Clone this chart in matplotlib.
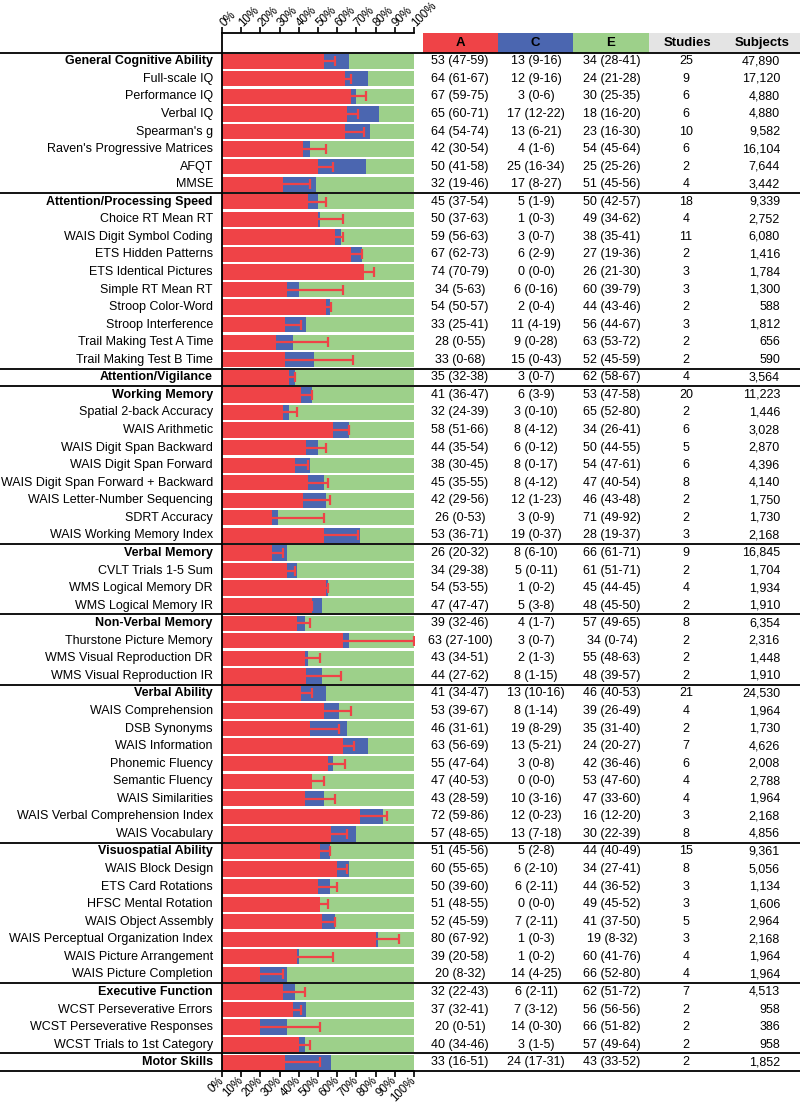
import numpy as np
import matplotlib
matplotlib.use('Agg')
import matplotlib.pyplot as plt
from matplotlib.transforms import blended_transform_factory
from matplotlib.patches import Rectangle

plt.rcParams['font.family'] = ['Liberation Sans', 'DejaVu Sans']

labels = [
    "General Cognitive Ability", "Full-scale IQ", "Performance IQ", "Verbal IQ", "Spearman's g",
    "Raven's Progressive Matrices", "AFQT", "MMSE",
    "Attention/Processing Speed", "Choice RT Mean RT", "WAIS Digit Symbol Coding", "ETS Hidden Patterns",
    "ETS Identical Pictures", "Simple RT Mean RT", "Stroop Color-Word", "Stroop Interference",
    "Trail Making Test A Time", "Trail Making Test B Time",
    "Attention/Vigilance",
    "Working Memory", "Spatial 2-back Accuracy", "WAIS Arithmetic", "WAIS Digit Span Backward",
    "WAIS Digit Span Forward", "WAIS Digit Span Forward + Backward", "WAIS Letter-Number Sequencing",
    "SDRT Accuracy", "WAIS Working Memory Index",
    "Verbal Memory", "CVLT Trials 1-5 Sum", "WMS Logical Memory DR", "WMS Logical Memory IR",
    "Non-Verbal Memory", "Thurstone Picture Memory", "WMS Visual Reproduction DR", "WMS Visual Reproduction IR",
    "Verbal Ability", "WAIS Comprehension", "DSB Synonyms", "WAIS Information", "Phonemic Fluency",
    "Semantic Fluency", "WAIS Similarities", "WAIS Verbal Comprehension Index", "WAIS Vocabulary",
    "Visuospatial Ability", "WAIS Block Design", "ETS Card Rotations", "HFSC Mental Rotation",
    "WAIS Object Assembly", "WAIS Perceptual Organization Index", "WAIS Picture Arrangement",
    "WAIS Picture Completion",
    "Executive Function", "WCST Perseverative Errors", "WCST Perseverative Responses",
    "WCST Trials to 1st Category",
    "Motor Skills",
]
categories = ["General Cognitive Ability", "Attention/Processing Speed", "Attention/Vigilance",
              "Working Memory", "Verbal Memory", "Non-Verbal Memory", "Verbal Ability",
              "Visuospatial Ability", "Executive Function", "Motor Skills"]

a_est = [53, 64, 67, 65, 64, 42, 50, 32,
         45, 50, 59, 67, 74, 34, 54, 33, 28, 33,
         35,
         41, 32, 58, 44, 38, 45, 42, 26, 53,
         26, 34, 54, 47,
         39, 63, 43, 44,
         41, 53, 46, 63, 55, 47, 43, 72, 57,
         51, 60, 50, 51, 52, 80, 39, 20,
         32, 37, 20, 40,
         33]
a_lo = [47, 61, 59, 60, 54, 30, 41, 19,
        37, 37, 56, 62, 70, 5, 50, 25, 0, 0,
        32,
        36, 24, 51, 35, 30, 35, 29, 0, 36,
        20, 29, 53, 47,
        32, 27, 34, 27,
        34, 39, 31, 56, 47, 40, 28, 59, 48,
        45, 55, 39, 48, 45, 67, 20, 8,
        22, 32, 0, 34,
        16]
a_hi = [59, 67, 75, 71, 74, 54, 58, 46,
        54, 63, 63, 73, 79, 63, 57, 41, 55, 68,
        38,
        47, 39, 66, 54, 45, 55, 56, 53, 71,
        32, 38, 55, 47,
        46, 100, 51, 62,
        47, 67, 61, 69, 64, 53, 59, 86, 65,
        56, 65, 60, 55, 59, 92, 58, 32,
        43, 41, 51, 46,
        51]
c_est = [13, 12, 3, 17, 13, 4, 25, 17,
         5, 1, 3, 6, 0, 6, 2, 11, 9, 15,
         3,
         6, 3, 8, 6, 8, 8, 12, 3, 19,
         8, 5, 1, 5,
         4, 3, 2, 8,
         13, 8, 19, 13, 3, 0, 10, 12, 13,
         5, 6, 6, 0, 7, 1, 1, 14,
         6, 7, 14, 3,
         24]
c_lo = [9, 9, 0, 12, 6, 1, 16, 8,
        1, 0, 0, 2, 0, 0, 0, 4, 0, 0,
        0,
        3, 0, 4, 0, 0, 4, 1, 0, 0,
        6, 0, 0, 3,
        1, 0, 1, 1,
        10, 1, 8, 5, 0, 0, 3, 0, 7,
        2, 2, 2, 0, 2, 0, 0, 4,
        2, 3, 0, 1,
        17]
c_hi = [16, 16, 6, 22, 21, 6, 34, 27,
        9, 3, 7, 9, 0, 16, 4, 19, 28, 43,
        7,
        9, 10, 12, 12, 17, 12, 23, 9, 37,
        10, 11, 2, 8,
        7, 7, 3, 15,
        16, 14, 29, 21, 8, 0, 16, 23, 18,
        8, 10, 11, 0, 11, 3, 2, 25,
        11, 12, 30, 5,
        31]
e_est = [34, 24, 30, 18, 23, 54, 25, 51,
         50, 49, 38, 27, 26, 60, 44, 56, 63, 52,
         62,
         53, 65, 34, 50, 54, 47, 46, 71, 28,
         66, 61, 45, 48,
         57, 34, 55, 48,
         46, 39, 35, 24, 42, 53, 47, 16, 30,
         44, 34, 44, 49, 41, 19, 60, 66,
         62, 56, 66, 57,
         43]
e_lo = [28, 21, 25, 16, 16, 45, 25, 45,
        42, 34, 35, 19, 21, 39, 43, 44, 53, 45,
        58,
        47, 52, 26, 44, 47, 40, 43, 49, 19,
        61, 51, 44, 45,
        49, 0, 48, 39,
        40, 26, 31, 20, 36, 47, 33, 12, 22,
        40, 27, 36, 45, 37, 8, 41, 52,
        51, 56, 51, 49,
        33]
e_hi = [41, 28, 35, 20, 30, 64, 26, 56,
        57, 62, 41, 36, 30, 79, 46, 67, 72, 59,
        67,
        58, 80, 41, 55, 61, 54, 48, 92, 37,
        71, 71, 45, 50,
        65, 74, 63, 57,
        53, 49, 40, 27, 46, 60, 60, 20, 39,
        49, 41, 52, 52, 50, 32, 76, 80,
        72, 56, 82, 64,
        52]
studies = [25, 9, 6, 6, 10, 6, 2, 4,
           18, 4, 11, 2, 3, 3, 2, 3, 2, 2,
           4,
           20, 2, 6, 5, 6, 8, 2, 2, 3,
           9, 2, 4, 2,
           8, 2, 2, 2,
           21, 4, 2, 7, 6, 4, 4, 3, 8,
           15, 8, 3, 3, 5, 3, 4, 4,
           7, 2, 2, 2,
           2]
subjects = [47890, 17120, 4880, 4880, 9582, 16104, 7644, 3442,
            9339, 2752, 6080, 1416, 1784, 1300, 588, 1812, 656, 590,
            3564,
            11223, 1446, 3028, 2870, 4396, 4140, 1750, 1730, 2168,
            16845, 1704, 1934, 1910,
            6354, 2316, 1448, 1910,
            24530, 1964, 1730, 4626, 2008, 2788, 1964, 2168, 4856,
            9361, 5056, 1134, 1606, 2964, 2168, 1964, 1964,
            4513, 958, 386, 958,
            1852]
col_headers = ["A", "C", "E", "Studies", "Subjects"]

RED = '#ef4347'
BLUE = '#4b66b0'
GREEN = '#9dd08a'
GRAY = '#e4e4e4'

W, H = 800, 1105
fig = plt.figure(figsize=(W / 100, H / 100), dpi=100)

ax_left, ax_right = 222, 414
ax_top, ax_bot = 33, 1071
header_line = 52.5
ax = fig.add_axes([ax_left / W, 1 - ax_bot / H, (ax_right - ax_left) / W, (ax_bot - ax_top) / H])

n = len(labels)
y = np.arange(n)
a = np.array(a_est, float)
c = np.array(c_est, float)
e = np.array(e_est, float)
ahi = np.array(a_hi, float)

row_px = (ax_bot - header_line) / n
y_top = -0.5 - (header_line - ax_top) / row_px
ax.set_ylim(n - 0.5, y_top)
ax.set_xlim(0, 100)

bh = 0.87
ax.barh(y, a, height=bh, color=RED, linewidth=0)
ax.barh(y, c, left=a, height=bh, color=BLUE, linewidth=0)
ax.barh(y, e, left=a + c, height=bh, color=GREEN, linewidth=0)

# one-sided (upper) CI for A
ax.hlines(y, a, ahi, color=RED, linewidth=1.6, zorder=3)
ax.plot(ahi, y, ls='none', marker='|', ms=6.5, mew=1.6, color=RED, zorder=3)

ax.set_yticks(y)
ax.set_yticklabels(labels, fontsize=9)
for lab, t in zip(labels, ax.get_yticklabels()):
    t.set_va('center')
    if lab in categories:
        t.set_fontweight('bold')
ax.tick_params(axis='y', length=0, pad=6.5)

xt = np.arange(0, 101, 10)
ax.set_xticks(xt)
ax.set_xticklabels([f"{v}%" for v in xt])
ax.tick_params(axis='x', top=True, labeltop=True, bottom=True, labelbottom=True,
               direction='out', length=4, width=1.2, labelsize=8.3, pad=1.5)
for t in ax.xaxis.get_major_ticks():
    t.label1.set_rotation(45)
    t.label1.set_ha('right')
    t.label1.set_va('center')
    t.label1.set_rotation_mode('anchor')
    t.label2.set_rotation(45)
    t.label2.set_ha('left')
    t.label2.set_va('center')
    t.label2.set_rotation_mode('anchor')

ax.spines['right'].set_visible(False)
for s in ['left', 'top', 'bottom']:
    ax.spines[s].set_linewidth(1.3)

trans = blended_transform_factory(fig.transFigure, ax.transData)

# category separators spanning full width
sep_rows = [-0.5] + [labels.index(cn) - 0.5 for cn in categories[1:]] + [n - 0.5]
for yy in sep_rows:
    ax.plot([0, 1], [yy, yy], transform=trans, color='black', lw=1.3, clip_on=False, zorder=5)

# header cells
cells = [(423, 498, RED), (498, 573, BLUE), (573, 649, GREEN), (649, 800, GRAY)]
for x0, x1, col in cells:
    ax.add_patch(Rectangle((x0 / W, -0.5), (x1 - x0) / W, y_top + 0.5, transform=trans,
                           facecolor=col, edgecolor='none', clip_on=False, zorder=1))
hy = (y_top - 0.5) / 2
hx = [460, 535, 611, 687, 762]
for xh, txt in zip(hx, col_headers):
    ax.text(xh / W, hy, txt, transform=trans, ha='center', va='center',
            fontsize=9.5, fontweight='bold', clip_on=False)

# table values
for i in range(n):
    ax.text(460 / W, i, f"{a_est[i]} ({a_lo[i]}-{a_hi[i]})", transform=trans,
            ha='center', va='center', fontsize=9, clip_on=False)
    ax.text(536 / W, i, f"{c_est[i]} ({c_lo[i]}-{c_hi[i]})", transform=trans,
            ha='center', va='center', fontsize=9, clip_on=False)
    ax.text(612 / W, i, f"{e_est[i]} ({e_lo[i]}-{e_hi[i]})", transform=trans,
            ha='center', va='center', fontsize=9, clip_on=False)
    ax.text(686 / W, i, f"{studies[i]}", transform=trans,
            ha='center', va='center', fontsize=9, clip_on=False)
    ax.text(780 / W, i, f"{subjects[i]:,}", transform=trans,
            ha='right', va='center', fontsize=9, clip_on=False)

fig.savefig('out.png', dpi=100)
